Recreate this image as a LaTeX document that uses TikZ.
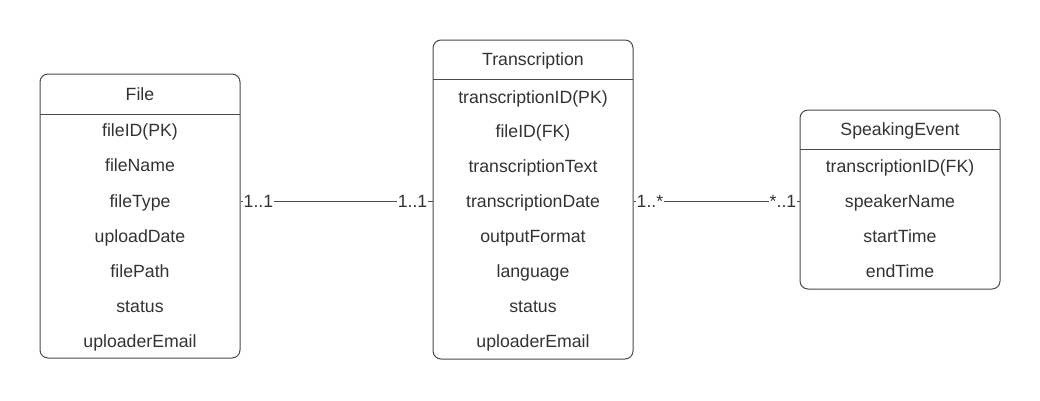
\documentclass[tikz,border=0pt]{standalone}
\usepackage{fontspec}
\setmainfont{Liberation Sans}
\definecolor{edge}{HTML}{4A4A4A}
\definecolor{txt}{HTML}{333333}
\begin{document}
\begin{tikzpicture}[x=1pt,y=-1pt,
  entity/.style={draw=edge, line width=1pt, rounded corners=8pt, minimum width=200pt, inner sep=0pt, fill=white},
  attr/.style={font=\fontsize{17.7}{20}\selectfont, text=txt, inner sep=0pt, text height=12.7pt, text depth=3.7pt, anchor=center, yshift=-2pt},
  mult/.style={font=\fontsize{17.7}{20}\selectfont, text=txt, fill=white, inner sep=1pt, text height=12.7pt, text depth=3.7pt},
  rel/.style={draw=edge, line width=1pt}]
\useasboundingbox (0,0) rectangle (1040,400);
% File
\node[entity, minimum height=284pt] (file) at (140,216) {};
\draw[rel] (40,114) -- (240,114);
\node[attr] (fileT) at (140,94) {File};
\node[attr] (f1) at (140,130) {fileID(PK)};
\node[attr] (f2) at (140,165) {fileName};
\node[attr] (f3) at (140,201) {fileType};
\node[attr] (f4) at (140,236) {uploadDate};
\node[attr] (f5) at (140,271) {filePath};
\node[attr] (f6) at (140,306) {status};
\node[attr] (f7) at (140,341) {uploaderEmail};
% Transcription
\node[entity, minimum height=319pt] (trans) at (533,199.5) {};
\draw[rel] (433,79) -- (633,79);
\node[attr] (tT) at (533,59) {Transcription};
\node[attr] (t1) at (533,97) {transcriptionID(PK)};
\node[attr] (t2) at (533,131) {fileID(FK)};
\node[attr] (t3) at (533,166) {transcriptionText};
\node[attr] (t4) at (533,201) {transcriptionDate};
\node[attr] (t5) at (533,236) {outputFormat};
\node[attr] (t6) at (533,271) {language};
\node[attr] (t7) at (533,306) {status};
\node[attr] (t8) at (533,341) {uploaderEmail};
% SpeakingEvent
\node[entity, minimum height=179pt] (spk) at (900,199.5) {};
\draw[rel] (800,149) -- (1000,149);
\node[attr] (sT) at (900,129) {SpeakingEvent};
\node[attr] (s1) at (900,166) {transcriptionID(FK)};
\node[attr] (s2) at (900,201) {speakerName};
\node[attr] (s3) at (900,236) {startTime};
\node[attr] (s4) at (900,271) {endTime};
% connectors
\coordinate (a1) at (file.east |- f3);
\coordinate (a2) at (trans.west |- t4);
\coordinate (b1) at (trans.east |- t4);
\coordinate (b2) at (spk.west |- s2);
\draw[rel] ([yshift=2pt]a1) -- ([yshift=2pt]a2);
\draw[rel] ([yshift=2pt]b1) -- ([yshift=2pt]b2);
\node[mult, anchor=west] (m1) at ([xshift=2pt]a1) {1..1};
\node[mult, anchor=east] (m2) at ([xshift=-4pt]a2) {1..1};
\node[mult, anchor=west] (m3) at ([xshift=2pt]b1) {1..*};
\node[mult, anchor=east] (m4) at ([xshift=-2pt]b2) {*..1};
\end{tikzpicture}
\end{document}
